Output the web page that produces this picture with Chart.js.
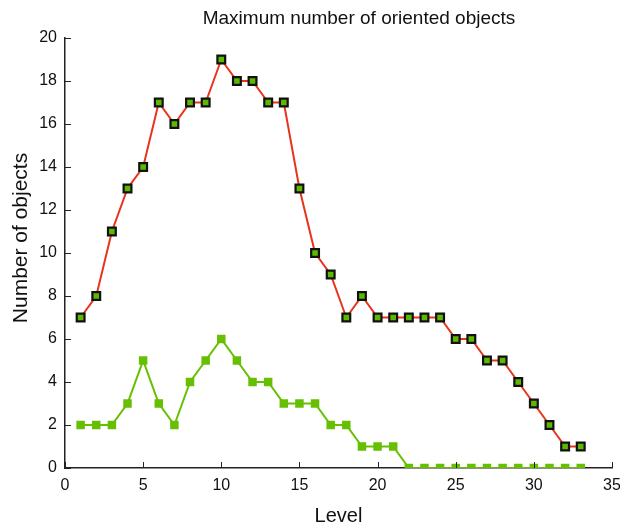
<!DOCTYPE html>
<html>
<head>
<meta charset="utf-8">
<script src="https://cdn.jsdelivr.net/npm/chart.js@4.4.0/dist/chart.umd.min.js"></script>
<style>
  html, body { margin: 0; padding: 0; background: #fff; }
  #wrap { width: 620px; height: 528px; }
</style>
</head>
<body>
<div id="wrap"><canvas id="chart" width="620" height="528"></canvas></div>
<script>
// levels 1..33
var levels = [1,2,3,4,5,6,7,8,9,10,11,12,13,14,15,16,17,18,19,20,21,22,23,24,25,26,27,28,29,30,31,32,33];
var maxObjects = [7,8,11,13,14,17,16,17,17,19,18,18,17,17,13,10,9,7,8,7,7,7,7,7,6,6,5,5,4,3,2,1,1];
var orientedObjects = [2,2,2,3,5,3,2,4,5,6,5,4,4,3,3,3,2,2,1,1,1,0,0,0,0,0,0,0,0,0,0,0,0];
var xTicks = [0,5,10,15,20,25,30,35];
var yTicks = [0,2,4,6,8,10,12,14,16,18,20];

var chartTitle = 'Maximum number of oriented objects';
var yTitle = 'Number of objects';
var FONT = 'Liberation Sans, Arial, sans-serif';

function toPoints(ys) {
  return levels.map(function(x, i){ return { x: x, y: ys[i] }; });
}

// inward tick marks + titles placed like the original figure
var decorations = {
  id: 'decorations',
  afterDraw: function(chart) {
    var ctx = chart.ctx;
    var xs = chart.scales.x, ys = chart.scales.y;
    ctx.save();
    ctx.strokeStyle = '#222';
    ctx.lineWidth = 1;
    xTicks.forEach(function(v){
      var px = Math.round(xs.getPixelForValue(v)) + 0.5;
      ctx.beginPath();
      ctx.moveTo(px, ys.bottom);
      ctx.lineTo(px, ys.bottom - 6);
      ctx.stroke();
    });
    yTicks.forEach(function(v){
      var py = Math.round(ys.getPixelForValue(v)) + 0.5;
      ctx.beginPath();
      ctx.moveTo(xs.left, py);
      ctx.lineTo(xs.left + 6, py);
      ctx.stroke();
    });

    ctx.fillStyle = '#111';
    ctx.textAlign = 'center';
    ctx.textBaseline = 'middle';
    ctx.font = '19px ' + FONT;
    ctx.fillText(chartTitle, 359, 19);

    ctx.translate(21, 238);
    ctx.rotate(-Math.PI / 2);
    ctx.font = '21px ' + FONT;
    ctx.fillText(yTitle, 0, 0);
    ctx.restore();
  }
};

var ctx = document.getElementById('chart').getContext('2d');
var chart = new Chart(ctx, {
  type: 'line',
  data: {
    datasets: [
      {
        label: 'oriented',
        data: toPoints(orientedObjects),
        borderColor: '#66bf00',
        backgroundColor: '#66bf00',
        borderWidth: 2,
        pointStyle: 'rect',
        pointRadius: 6,
        pointBorderWidth: 0,
        pointBackgroundColor: '#66bf00',
        tension: 0
      },
      {
        label: 'max',
        data: toPoints(maxObjects),
        borderColor: '#e8341c',
        backgroundColor: '#e8341c',
        borderWidth: 2,
        pointStyle: 'rect',
        pointRadius: 5.5,
        pointBorderWidth: 2.2,
        pointBorderColor: '#111',
        pointBackgroundColor: '#5cb800',
        tension: 0
      }
    ]
  },
  options: {
    responsive: false,
    animation: false,
    layout: { padding: { left: 0, right: 0, top: 38, bottom: 0 } },
    plugins: {
      legend: { display: false },
      tooltip: { enabled: false },
      title: { display: false }
    },
    scales: {
      x: {
        type: 'linear',
        min: 0, max: 35,
        afterBuildTicks: function(s){ s.ticks = xTicks.map(function(v){ return { value: v }; }); },
        afterFit: function(s){ s.height = 60; s.paddingLeft = 0; s.paddingRight = 8; },
        grid: { display: false, drawTicks: false },
        border: { display: true, color: '#222', width: 1.5 },
        ticks: {
          color: '#111',
          padding: 8,
          font: { family: FONT, size: 16 }
        },
        title: {
          display: true,
          text: 'Level',
          color: '#111',
          font: { family: FONT, size: 20 },
          padding: { top: 2, bottom: 0 }
        }
      },
      y: {
        type: 'linear',
        min: 0, max: 20,
        afterBuildTicks: function(s){ s.ticks = yTicks.map(function(v){ return { value: v }; }); },
        afterFit: function(s){ s.width = 65; },
        grid: { display: false, drawTicks: false },
        border: { display: true, color: '#222', width: 1.5 },
        ticks: {
          color: '#111',
          padding: 8,
          font: { family: FONT, size: 16 }
        }
      }
    }
  },
  plugins: [decorations]
});
</script>
</body>
</html>
